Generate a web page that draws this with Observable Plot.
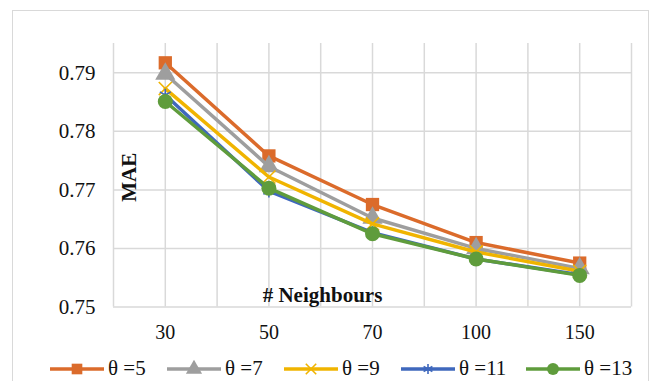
<!DOCTYPE html>
<html><head><meta charset="utf-8">
<script src="https://cdn.jsdelivr.net/npm/d3@7"></script>
<script src="https://cdn.jsdelivr.net/npm/@observablehq/plot@0.6"></script>
<style>
body{margin:0;background:#fff;}
#wrap{position:relative;width:652px;height:381px;overflow:hidden;font-family:'Liberation Serif','DejaVu Serif',serif;}
#frame{position:absolute;left:12px;top:10px;width:637px;height:385px;border:1.5px solid #d9d9d9;box-sizing:border-box;}
#chart{position:absolute;left:0;top:0;}
#legend{position:absolute;left:50px;top:356px;display:flex;align-items:center;font-size:21px;color:#111;white-space:nowrap;}
#legend .item{display:flex;align-items:center;margin-right:20px;}
#legend svg{margin-right:4px;}
#legend span.short{display:inline-block;width:39px;}
#legend span.long{display:inline-block;width:47px;}
</style></head><body>
<div id="wrap"><div id="frame"></div><div id="chart"></div><div id="legend"></div></div>
<script>
const categories = ["30","50","70","100","150"];
const seriesNames = ["θ =5","θ =7","θ =9","θ =11","θ =13"];
const theta5  = [0.7917, 0.7758, 0.7675, 0.7610, 0.7575];
const theta7  = [0.7898, 0.7740, 0.7652, 0.7600, 0.7566];
const theta9  = [0.7873, 0.7722, 0.7642, 0.7594, 0.7561];
const theta11 = [0.7862, 0.7698, 0.7627, 0.7582, 0.7555];
const theta13 = [0.7851, 0.7703, 0.7625, 0.7582, 0.7554];
const yTicks = [0.75, 0.76, 0.77, 0.78, 0.79];
const xTitle = "# Neighbours";
const yTitle = "MAE";

const seriesValues = [theta5, theta7, theta9, theta11, theta13];
const colors = ["#db6b2b", "#9e9e9e", "#f0b400", "#3f68bd", "#5f9c3c"];
const symbols = ["square", "triangle", "times", "asterisk", "circle"];
const filled = [true, true, false, false, true];
const sizes = [7.5, 7.5, 6, 6, 7.5];

const font = "'Liberation Serif', 'DejaVu Serif', serif";
const grid = "#d9d9d9";
const n = categories.length;
const xIdx = d3.range(n);
const xGrid = d3.range(-0.5, n - 0.5 + 0.01, 0.5);

const seriesMarks = [];
seriesValues.forEach((vals, s) => {
  const data = vals.map((v, i) => ({i, v}));
  seriesMarks.push(Plot.line(data, {x: "i", y: "v", stroke: colors[s], strokeWidth: 3.5}));
  seriesMarks.push(Plot.dot(data, {
    x: "i", y: "v", symbol: () => symbols[s], r: sizes[s],
    fill: filled[s] ? colors[s] : "none",
    stroke: colors[s], strokeWidth: filled[s] ? 0 : 1.6
  }));
});

const chart = Plot.plot({
  width: 652, height: 350,
  marginLeft: 113, marginRight: 21, marginTop: 43, marginBottom: 43.5,
  style: {fontFamily: font, fontSize: "20px", color: "#111", background: "transparent"},
  x: {domain: [-0.5, n - 0.5], label: null},
  y: {domain: [0.75, 0.795], label: null},
  marks: [
    Plot.gridY({ticks: yTicks, stroke: grid, strokeOpacity: 1, strokeWidth: 1.5}),
    Plot.gridX({ticks: xGrid, stroke: grid, strokeOpacity: 1, strokeWidth: 1.5}),
    Plot.axisY({ticks: yTicks, tickFormat: d3.format(".2f"), tickSize: 0, tickPadding: 18, label: null, fontSize: 21, fontFamily: font}),
    Plot.axisX({ticks: xIdx, tickFormat: i => categories[i], tickSize: 0, tickPadding: 18, label: null, fontSize: 20, fontFamily: font}),
    Plot.text([yTitle], {frameAnchor: "left", text: d => d, rotate: -90, dx: 16, dy: 2, fontWeight: "bold", fontSize: 21, fontFamily: font, textAnchor: "middle", lineAnchor: "middle"}),
    Plot.text([xTitle], {frameAnchor: "bottom", text: d => d, dx: -50, dy: -5, fontWeight: "bold", fontSize: 21, fontFamily: font, textAnchor: "middle", lineAnchor: "bottom"}),
    ...seriesMarks
  ]
});
document.getElementById("chart").appendChild(chart);

const legend = d3.select("#legend");
const symMap = {square: d3.symbolSquare, triangle: d3.symbolTriangle, times: d3.symbolTimes, asterisk: d3.symbolAsterisk, circle: d3.symbolCircle};
seriesNames.forEach((name, s) => {
  const item = legend.append("div").attr("class", "item");
  const svg = item.append("svg").attr("width", 54).attr("height", 20);
  svg.append("line").attr("x1", 0).attr("x2", 54).attr("y1", 10).attr("y2", 10)
    .attr("stroke", colors[s]).attr("stroke-width", 3.5);
  const r = sizes[s] * 0.8;
  svg.append("path").attr("transform", "translate(27,10)")
    .attr("d", d3.symbol(symMap[symbols[s]], Math.PI * r * r)())
    .attr("fill", filled[s] ? colors[s] : "none")
    .attr("stroke", filled[s] ? "none" : colors[s]).attr("stroke-width", 1.6);
  item.append("span").attr("class", name.length > 4 ? "long" : "short").text(name);
});
</script>
</body></html>
